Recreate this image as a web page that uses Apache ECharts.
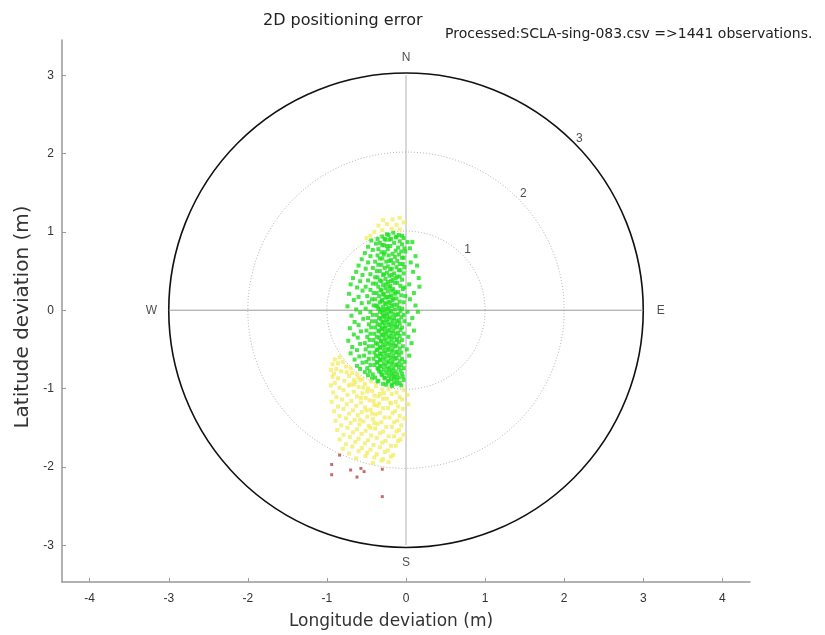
<!DOCTYPE html>
<html>
<head>
<meta charset="utf-8">
<title>2D positioning error</title>
<script src="https://cdn.jsdelivr.net/npm/echarts@6/dist/echarts.min.js"></script>
<style>
    html, body { margin: 0; padding: 0; background: #fff; }
    #chart { width: 825px; height: 635px; }
</style>
</head>
<body>
<div id="chart"></div>
<script>
// Tick labels
const xTicks = [-4, -3, -2, -1, 0, 1, 2, 3, 4];
const yTicks = [-3, -2, -1, 0, 1, 2, 3];

// Reference rings (m) and compass labels
const ringRadii = [1, 2, 3];
const compassNames = ['N', 'E', 'S', 'W'];

// Observations inside 1 m (green)
const greenPts = [
    [-0.24, 0.97], [-0.16, 0.99], [-0.09, 0.96],
    [-0.30, 0.94], [-0.22, 0.96], [-0.13, 0.93], [-0.05, 0.95],
    [-0.36, 0.91], [-0.26, 0.90], [-0.12, 0.94], [-0.03, 0.92], [-0.19, 0.91],
    [-0.44, 0.89], [-0.33, 0.86], [-0.21, 0.90], [-0.08, 0.88], [0.02, 0.87], [-0.27, 0.91],
    [-0.38, 0.85], [-0.24, 0.82], [-0.15, 0.86], [-0.05, 0.84], [-0.30, 0.83], [0.08, 0.87],
    [-0.48, 0.81], [-0.35, 0.78], [-0.20, 0.82], [-0.10, 0.80], [-0.02, 0.79], [-0.28, 0.83],
    [-0.42, 0.77], [-0.31, 0.74], [-0.23, 0.78], [-0.13, 0.76], [-0.06, 0.75], [0.05, 0.79],
    [-0.52, 0.73], [-0.36, 0.70], [-0.27, 0.74], [-0.17, 0.72], [-0.09, 0.71], [-0.01, 0.75], [0.12, 0.69],
    [-0.45, 0.69], [-0.33, 0.66], [-0.22, 0.70], [-0.14, 0.68], [-0.05, 0.67], [-0.28, 0.71],
    [-0.56, 0.65], [-0.39, 0.62], [-0.30, 0.66], [-0.19, 0.64], [-0.11, 0.63], [-0.03, 0.67], [0.06, 0.61],
    [-0.48, 0.61], [-0.35, 0.58], [-0.25, 0.62], [-0.16, 0.60], [-0.08, 0.59], [-0.21, 0.63], [0.14, 0.57],
    [-0.60, 0.57], [-0.42, 0.54], [-0.31, 0.58], [-0.23, 0.56], [-0.12, 0.55], [-0.04, 0.59], [-0.18, 0.53],
    [-0.51, 0.53], [-0.37, 0.50], [-0.27, 0.54], [-0.20, 0.52], [-0.09, 0.51], [-0.02, 0.55], [0.09, 0.49],
    [-0.63, 0.49], [-0.45, 0.46], [-0.33, 0.50], [-0.24, 0.48], [-0.15, 0.47], [-0.07, 0.51], [-0.29, 0.45],
    [-0.55, 0.45], [-0.39, 0.42], [-0.28, 0.46], [-0.21, 0.44], [-0.11, 0.43], [-0.03, 0.47], [0.16, 0.41], [-0.18, 0.45],
    [-0.67, 0.41], [-0.48, 0.38], [-0.36, 0.42], [-0.26, 0.40], [-0.17, 0.39], [-0.08, 0.43], [-0.31, 0.37], [-0.13, 0.41],
    [-0.58, 0.37], [-0.42, 0.34], [-0.33, 0.38], [-0.23, 0.36], [-0.14, 0.35], [-0.05, 0.39], [0.04, 0.33], [-0.19, 0.37],
    [-0.70, 0.33], [-0.51, 0.30], [-0.38, 0.34], [-0.29, 0.32], [-0.20, 0.31], [-0.11, 0.35], [-0.02, 0.29], [-0.25, 0.33], [0.17, 0.30],
    [-0.62, 0.29], [-0.45, 0.26], [-0.35, 0.30], [-0.26, 0.28], [-0.16, 0.27], [-0.07, 0.31], [-0.31, 0.25], [-0.21, 0.29],
    [-0.55, 0.25], [-0.41, 0.22], [-0.32, 0.26], [-0.23, 0.24], [-0.13, 0.23], [-0.04, 0.27], [-0.28, 0.21], [-0.18, 0.25], [0.10, 0.22],
    [-0.72, 0.21], [-0.49, 0.18], [-0.37, 0.22], [-0.29, 0.20], [-0.19, 0.19], [-0.10, 0.23], [-0.24, 0.17], [-0.14, 0.21], [-0.01, 0.18],
    [-0.60, 0.17], [-0.43, 0.14], [-0.34, 0.18], [-0.26, 0.16], [-0.16, 0.15], [-0.06, 0.19], [-0.30, 0.13], [-0.21, 0.17], [0.05, 0.14],
    [-0.66, 0.13], [-0.47, 0.10], [-0.39, 0.14], [-0.31, 0.12], [-0.22, 0.11], [-0.12, 0.15], [-0.27, 0.09], [-0.17, 0.13], [-0.03, 0.10],
    [-0.56, 0.09], [-0.41, 0.06], [-0.33, 0.10], [-0.25, 0.08], [-0.15, 0.07], [-0.08, 0.11], [-0.36, 0.05], [-0.20, 0.09], [0.12, 0.06],
    [-0.74, 0.05], [-0.51, 0.02], [-0.38, 0.06], [-0.29, 0.04], [-0.22, 0.03], [-0.11, 0.07], [-0.32, 0.01], [-0.18, 0.05], [-0.05, 0.02],
    [-0.63, 0.01], [-0.45, -0.02], [-0.35, 0.02], [-0.27, 0.00], [-0.19, -0.01], [-0.09, 0.03], [-0.30, -0.03], [-0.14, 0.01], [0.02, -0.02], [-0.24, 0.02],
    [-0.58, -0.03], [-0.42, -0.06], [-0.33, -0.02], [-0.25, -0.04], [-0.16, -0.05], [-0.07, -0.01], [-0.29, -0.07], [-0.21, -0.03], [-0.12, -0.06], [0.15, -0.02],
    [-0.69, -0.07], [-0.48, -0.10], [-0.37, -0.06], [-0.28, -0.08], [-0.20, -0.09], [-0.10, -0.05], [-0.32, -0.11], [-0.24, -0.07], [-0.15, -0.10], [-0.03, -0.06],
    [-0.54, -0.11], [-0.43, -0.14], [-0.34, -0.10], [-0.26, -0.12], [-0.17, -0.13], [-0.06, -0.09], [-0.30, -0.15], [-0.22, -0.11], [-0.12, -0.14], [0.08, -0.10],
    [-0.65, -0.15], [-0.47, -0.18], [-0.38, -0.14], [-0.29, -0.16], [-0.19, -0.17], [-0.09, -0.13], [-0.33, -0.19], [-0.24, -0.15], [-0.14, -0.18], [-0.02, -0.14],
    [-0.60, -0.19], [-0.44, -0.22], [-0.36, -0.18], [-0.27, -0.20], [-0.18, -0.21], [-0.08, -0.17], [-0.31, -0.23], [-0.22, -0.19], [-0.13, -0.22], [0.04, -0.18],
    [-0.71, -0.23], [-0.50, -0.26], [-0.39, -0.22], [-0.30, -0.24], [-0.21, -0.25], [-0.11, -0.21], [-0.34, -0.27], [-0.26, -0.23], [-0.16, -0.26], [-0.05, -0.22],
    [-0.57, -0.27], [-0.45, -0.30], [-0.35, -0.26], [-0.27, -0.28], [-0.18, -0.29], [-0.07, -0.25], [-0.31, -0.31], [-0.23, -0.27], [-0.13, -0.30], [0.10, -0.26],
    [-0.66, -0.31], [-0.49, -0.34], [-0.40, -0.30], [-0.29, -0.32], [-0.20, -0.33], [-0.10, -0.29], [-0.34, -0.35], [-0.25, -0.31], [-0.15, -0.34], [-0.03, -0.30],
    [-0.61, -0.35], [-0.46, -0.38], [-0.37, -0.34], [-0.27, -0.36], [-0.18, -0.37], [-0.08, -0.33], [-0.32, -0.39], [-0.22, -0.35], [-0.12, -0.38], [0.03, -0.34],
    [-0.73, -0.39], [-0.52, -0.42], [-0.41, -0.38], [-0.31, -0.40], [-0.21, -0.41], [-0.11, -0.37], [-0.36, -0.43], [-0.26, -0.39], [-0.16, -0.42], [-0.05, -0.38],
    [-0.58, -0.43], [-0.47, -0.46], [-0.38, -0.42], [-0.29, -0.44], [-0.19, -0.45], [-0.09, -0.41], [-0.33, -0.47], [-0.24, -0.43], [-0.14, -0.46], [0.07, -0.42],
    [-0.68, -0.47], [-0.51, -0.50], [-0.42, -0.46], [-0.32, -0.48], [-0.22, -0.49], [-0.12, -0.45], [-0.37, -0.51], [-0.27, -0.47], [-0.17, -0.50], [-0.04, -0.46],
    [-0.62, -0.51], [-0.46, -0.54], [-0.36, -0.50], [-0.28, -0.52], [-0.18, -0.53], [-0.08, -0.49], [-0.33, -0.55], [-0.23, -0.51], [-0.13, -0.54], [0.01, -0.50],
    [-0.70, -0.55], [-0.53, -0.58], [-0.40, -0.54], [-0.31, -0.56], [-0.21, -0.57], [-0.11, -0.53], [-0.35, -0.59], [-0.26, -0.55], [-0.16, -0.58], [-0.06, -0.54],
    [-0.59, -0.59], [-0.47, -0.62], [-0.38, -0.58], [-0.29, -0.60], [-0.19, -0.61], [-0.09, -0.57], [-0.33, -0.63], [-0.24, -0.59], [-0.14, -0.62], [0.04, -0.58],
    [-0.65, -0.63], [-0.50, -0.66], [-0.41, -0.62], [-0.32, -0.64], [-0.22, -0.65], [-0.12, -0.61], [-0.36, -0.67], [-0.27, -0.63], [-0.17, -0.66], [-0.05, -0.62],
    [-0.55, -0.67], [-0.45, -0.70], [-0.37, -0.66], [-0.28, -0.68], [-0.18, -0.69], [-0.08, -0.65], [-0.33, -0.71], [-0.23, -0.67], [-0.13, -0.70], [-0.02, -0.66],
    [-0.62, -0.71], [-0.49, -0.74], [-0.40, -0.70], [-0.31, -0.72], [-0.21, -0.73], [-0.11, -0.69], [-0.35, -0.75], [-0.26, -0.71], [-0.16, -0.74], [-0.06, -0.70],
    [-0.58, -0.75], [-0.46, -0.78], [-0.36, -0.74], [-0.28, -0.76], [-0.18, -0.77], [-0.09, -0.73], [-0.32, -0.79], [-0.23, -0.75], [-0.13, -0.78], [-0.03, -0.74],
    [-0.52, -0.79], [-0.42, -0.82], [-0.34, -0.78], [-0.25, -0.80], [-0.16, -0.81], [-0.07, -0.77], [-0.30, -0.83], [-0.21, -0.79], [-0.11, -0.82],
    [-0.48, -0.83], [-0.39, -0.86], [-0.31, -0.82], [-0.22, -0.84], [-0.14, -0.85], [-0.05, -0.81], [-0.27, -0.87], [-0.18, -0.83], [-0.09, -0.86],
    [-0.43, -0.87], [-0.35, -0.90], [-0.27, -0.86], [-0.19, -0.88], [-0.11, -0.89], [-0.04, -0.85], [-0.23, -0.91], [-0.15, -0.87],
    [-0.36, -0.91], [-0.29, -0.94], [-0.22, -0.90], [-0.15, -0.92], [-0.08, -0.93], [-0.03, -0.89], [-0.18, -0.95],
    [-0.25, -0.95], [-0.18, -0.97], [-0.12, -0.94], [-0.06, -0.96]
];

// Observations between 1 m and 2 m (yellow)
const yellowPts = [
    [-0.45, 0.95], [-0.50, 0.92], [-0.40, 1.00], [-0.30, 1.02], [-0.18, 1.04], [-0.08, 1.03],
    [-0.35, 1.08], [-0.24, 1.10], [-0.12, 1.09], [-0.03, 1.12], [-0.29, 1.15], [-0.17, 1.16], [-0.08, 1.18],
    [-0.90, -0.63], [-0.84, -0.60],
    [-0.93, -0.69], [-0.80, -0.66], [-0.86, -0.68],
    [-0.88, -0.75], [-0.76, -0.72], [-0.70, -0.74], [-0.95, -0.76],
    [-0.91, -0.81], [-0.82, -0.78], [-0.68, -0.80], [-0.62, -0.82], [-0.75, -0.79],
    [-0.86, -0.87], [-0.72, -0.84], [-0.60, -0.86], [-0.55, -0.88], [-0.93, -0.85], [-0.66, -0.89],
    [-0.90, -0.93], [-0.78, -0.90], [-0.64, -0.92], [-0.52, -0.94], [-0.44, -0.91], [-0.70, -0.95], [-0.58, -0.89],
    [-0.84, -0.99], [-0.72, -0.96], [-0.60, -0.98], [-0.48, -1.00], [-0.38, -0.97], [-0.30, -1.01], [-0.66, -0.95], [-0.54, -0.99], [-0.95, -0.96],
    [-0.92, -1.05], [-0.79, -1.02], [-0.66, -1.04], [-0.55, -1.06], [-0.43, -1.03], [-0.33, -1.07], [-0.22, -1.01], [-0.12, -1.05], [-0.03, -1.02], [-0.49, -1.04], [-0.28, -1.06],
    [-0.88, -1.11], [-0.74, -1.08], [-0.62, -1.10], [-0.51, -1.12], [-0.40, -1.09], [-0.29, -1.13], [-0.18, -1.07], [-0.08, -1.11], [0.02, -1.08], [-0.35, -1.10], [-0.57, -1.12],
    [-0.94, -1.17], [-0.81, -1.14], [-0.69, -1.16], [-0.57, -1.18], [-0.46, -1.15], [-0.34, -1.19], [-0.24, -1.13], [-0.13, -1.17], [-0.05, -1.14], [-0.41, -1.16], [-0.20, -1.18],
    [-0.86, -1.23], [-0.75, -1.20], [-0.63, -1.22], [-0.52, -1.24], [-0.40, -1.21], [-0.29, -1.25], [-0.19, -1.19], [-0.10, -1.23], [0.03, -1.20], [-0.36, -1.22],
    [-0.91, -1.29], [-0.79, -1.26], [-0.67, -1.28], [-0.56, -1.30], [-0.45, -1.27], [-0.33, -1.31], [-0.23, -1.25], [-0.14, -1.29], [-0.04, -1.26], [-0.50, -1.28],
    [-0.84, -1.35], [-0.72, -1.32], [-0.61, -1.34], [-0.49, -1.36], [-0.38, -1.33], [-0.27, -1.37], [-0.17, -1.31], [-0.08, -1.35], [-0.43, -1.32],
    [-0.89, -1.41], [-0.76, -1.38], [-0.65, -1.40], [-0.54, -1.42], [-0.42, -1.39], [-0.31, -1.43], [-0.21, -1.37], [-0.11, -1.41], [-0.02, -1.38], [-0.58, -1.40],
    [-0.82, -1.47], [-0.70, -1.44], [-0.59, -1.46], [-0.47, -1.48], [-0.36, -1.45], [-0.25, -1.49], [-0.15, -1.43], [-0.06, -1.47], [-0.40, -1.44],
    [-0.87, -1.53], [-0.74, -1.50], [-0.62, -1.52], [-0.51, -1.54], [-0.39, -1.51], [-0.29, -1.55], [-0.18, -1.49], [-0.09, -1.53], [-0.45, -1.50],
    [-0.79, -1.59], [-0.67, -1.56], [-0.56, -1.58], [-0.44, -1.60], [-0.33, -1.57], [-0.22, -1.61], [-0.12, -1.55], [-0.03, -1.59],
    [-0.84, -1.65], [-0.71, -1.62], [-0.60, -1.64], [-0.48, -1.66], [-0.37, -1.63], [-0.26, -1.67], [-0.15, -1.61], [-0.07, -1.65],
    [-0.76, -1.71], [-0.64, -1.68], [-0.52, -1.70], [-0.41, -1.72], [-0.30, -1.69], [-0.19, -1.73], [-0.10, -1.67],
    [-0.80, -1.77], [-0.68, -1.74], [-0.56, -1.76], [-0.45, -1.78], [-0.33, -1.75], [-0.23, -1.79], [-0.13, -1.73],
    [-0.72, -1.83], [-0.60, -1.80], [-0.49, -1.82], [-0.37, -1.84], [-0.27, -1.81], [-0.16, -1.85],
    [-0.63, -1.89], [-0.51, -1.86], [-0.40, -1.88], [-0.29, -1.90], [-0.19, -1.87],
    [-0.42, -1.95], [-0.31, -1.92], [-0.22, -1.94]
];

// Observations beyond 2 m (red)
const redPts = [
    [-0.84, -1.85], [-0.94, -1.97], [-0.94, -2.10], [-0.70, -2.04], [-0.62, -2.13],
    [-0.53, -2.06], [-0.57, -2.02], [-0.30, -2.03], [-0.30, -2.38]
];

const chart = echarts.init(document.getElementById('chart'));

const maxR = Math.max(...ringRadii);
const labelOff = 0.1;

// compass letters just outside the outer ring
const compassData = compassNames.map((n, i) => {
    const a = Math.PI / 2 - i * Math.PI / 2;
    const d = maxR + 0.22;
    return { name: n, value: [Math.round(Math.cos(a) * d * 100) / 100, Math.round(Math.sin(a) * d * 100) / 100] };
});

// ring labels on the 45 deg diagonal
const ringLabelData = ringRadii.map(r => ({
    name: String(r),
    value: [(r + labelOff) * Math.SQRT1_2, (r + labelOff) * Math.SQRT1_2]
}));

const font = 'Liberation Sans, Arial, sans-serif';
const wideFont = 'DejaVu Sans, Liberation Sans, sans-serif';

const option = {
    animation: false,
    title: [
        {
            text: '2D positioning error',
            left: 258,
            top: 8,
            textStyle: { fontFamily: wideFont, fontSize: 16, fontWeight: 'normal', color: '#222' }
        },
        {
            text: 'Processed:SCLA-sing-083.csv =>1441 observations.',
            left: 440,
            top: 22,
            textStyle: { fontFamily: wideFont, fontSize: 14, fontWeight: 'normal', color: '#222' }
        }
    ],
    grid: {
        left: 62,
        right: 75,
        top: 40,
        bottom: 50
    },
    xAxis: {
        type: 'value',
        min: -4.35,
        max: 4.35,
        name: 'Longitude deviation (m)',
        nameLocation: 'middle',
        nameGap: 31,
        nameTextStyle: { fontFamily: wideFont, fontSize: 17, color: '#333', padding: [0, 30, 0, 0] },
        splitLine: { show: false },
        axisLine: { onZero: false, lineStyle: { color: '#999', width: 1.5 } },
        axisTick: { inside: true, length: 4, customValues: xTicks, lineStyle: { color: '#999' } },
        axisLabel: { customValues: xTicks, fontFamily: font, fontSize: 12, color: '#333', margin: 11 }
    },
    yAxis: {
        type: 'value',
        min: -3.47,
        max: 3.45,
        name: 'Latitude deviation (m)',
        nameLocation: 'middle',
        nameGap: 26,
        nameTextStyle: { fontFamily: wideFont, fontSize: 20, color: '#333', padding: [0, 12, 0, 0] },
        splitLine: { show: false },
        axisLine: { onZero: false, lineStyle: { color: '#999', width: 1.5 } },
        axisTick: { inside: true, length: 4, customValues: yTicks, lineStyle: { color: '#999' } },
        axisLabel: { customValues: yTicks, fontFamily: font, fontSize: 12, color: '#333', margin: 8 }
    },
    series: [
        {
            // range rings
            type: 'custom',
            data: ringRadii.map(r => [r, 0]),
            encode: { x: 0, y: 1 },
            silent: true,
            z: 1,
            renderItem: function (params, api) {
                const r = api.value(0);
                const c = api.coord([0, 0]);
                const rp = api.size([r, 0])[0];
                const outer = r === maxR;
                return {
                    type: 'circle',
                    shape: { cx: c[0], cy: c[1], r: rp },
                    style: {
                        fill: 'none',
                        stroke: outer ? '#111' : '#aaa',
                        lineWidth: outer ? 1.6 : 1,
                        lineDash: outer ? null : [1, 2]
                    }
                };
            }
        },
        {
            // E-W line
            type: 'line',
            data: [[-maxR, 0], [maxR, 0]],
            symbol: 'none',
            silent: true,
            z: 1,
            lineStyle: { color: '#999', width: 1 }
        },
        {
            // N-S line
            type: 'line',
            data: [[0, -maxR], [0, maxR]],
            symbol: 'none',
            silent: true,
            z: 1,
            lineStyle: { color: '#b0b0b0', width: 1 }
        },
        {
            name: '< 1 m',
            type: 'scatter',
            data: greenPts,
            symbol: 'rect',
            symbolSize: 4,
            z: 3,
            itemStyle: { color: '#1fe01f' }
        },
        {
            name: '1 - 2 m',
            type: 'scatter',
            data: yellowPts,
            symbol: 'rect',
            symbolSize: 4,
            z: 3,
            itemStyle: { color: '#f2ee68' }
        },
        {
            name: '> 2 m',
            type: 'scatter',
            data: redPts,
            symbol: 'rect',
            symbolSize: 3,
            z: 3,
            itemStyle: { color: '#b84a4a' }
        },
        {
            type: 'scatter',
            data: compassData.concat(ringLabelData),
            symbolSize: 0,
            silent: true,
            z: 4,
            label: {
                show: true,
                position: 'inside',
                formatter: '{b}',
                fontFamily: font,
                fontSize: 12,
                color: '#222'
            }
        }
    ]
};

chart.setOption(option);
</script>
</body>
</html>
